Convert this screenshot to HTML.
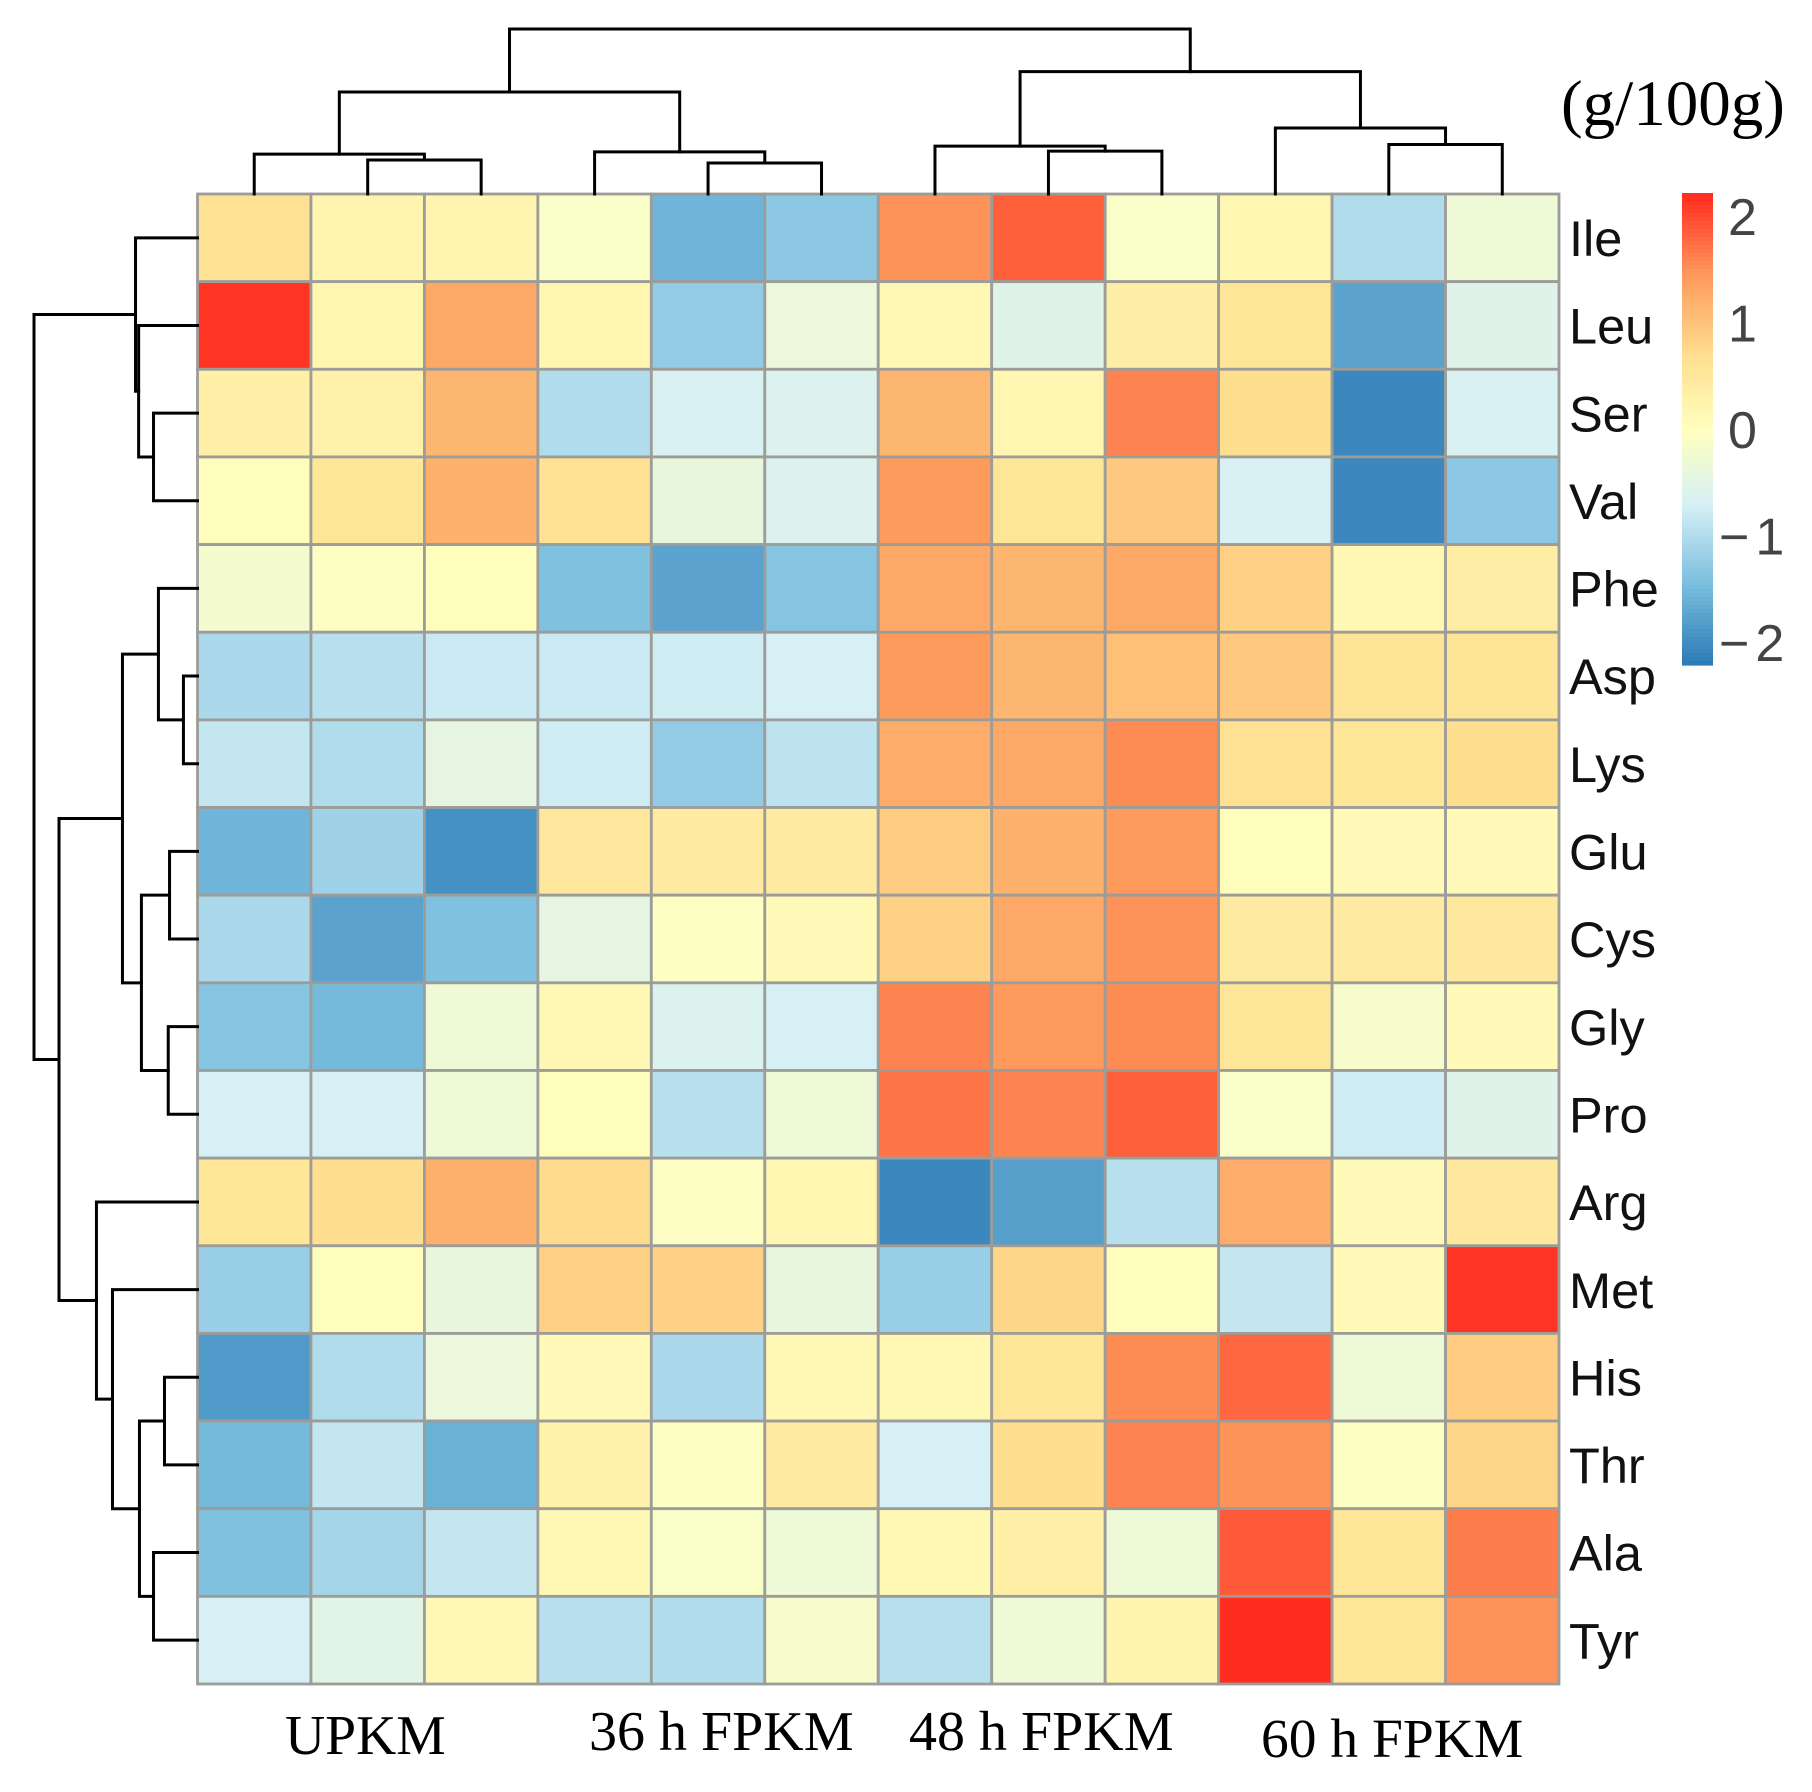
<!DOCTYPE html>
<html>
<head>
<meta charset="utf-8">
<title>Amino acid heatmap</title>
<style>
html,body{margin:0;padding:0;background:#fff;width:1812px;height:1792px;overflow:hidden}
svg{display:block}
</style>
</head>
<body>
<svg id="chart" xmlns="http://www.w3.org/2000/svg" width="1812" height="1792" viewBox="0 0 1812 1792"></svg>
<script>
const rowLabels = ["Ile","Leu","Ser","Val","Phe","Asp","Lys","Glu","Cys","Gly","Pro","Arg","Met","His","Thr","Ala","Tyr"];
const groupLabels = ["UPKM","36 h FPKM","48 h FPKM","60 h FPKM"];
const legendTicks = [2,1,0,-1,-2];
const legendTickLabels = ["2","1","0","\u22121","\u22122"];
const unitLabel = "(g/100g)";

const ileValues = [0.65,0.22,0.22,-0.1,-1.55,-1.3,1.5,1.85,-0.1,0.2,-1.0,-0.3];
const leuValues = [2.15,0.2,1.3,0.2,-1.25,-0.35,0.15,-0.55,0.4,0.55,-1.75,-0.55];
const serValues = [0.35,0.3,1.15,-1.0,-0.65,-0.6,1.15,0.2,1.6,0.7,-2.05,-0.65];
const valValues = [0.05,0.55,1.2,0.65,-0.4,-0.6,1.45,0.55,0.95,-0.65,-2.05,-1.3];
const pheValues = [-0.2,-0.05,0.05,-1.4,-1.75,-1.35,1.3,1.15,1.3,0.85,0.15,0.4];
const aspValues = [-1.05,-0.95,-0.8,-0.8,-0.75,-0.7,1.45,1.15,1.05,0.95,0.6,0.6];
const lysValues = [-0.85,-1.0,-0.45,-0.75,-1.25,-0.9,1.25,1.3,1.55,0.65,0.55,0.7];
const gluValues = [-1.55,-1.15,-1.95,0.5,0.45,0.45,0.9,1.2,1.45,0.05,0.1,0.1];
const cysValues = [-1.05,-1.75,-1.4,-0.45,-0.05,0.1,0.85,1.3,1.5,0.45,0.45,0.5];
const glyValues = [-1.35,-1.5,-0.3,0.15,-0.6,-0.7,1.6,1.45,1.55,0.55,-0.15,0.1];
const proValues = [-0.7,-0.7,-0.3,0.05,-0.95,-0.3,1.7,1.6,1.85,-0.1,-0.75,-0.55];
const argValues = [0.55,0.7,1.2,0.75,-0.05,0.2,-2.05,-1.8,-0.95,1.25,0.1,0.5];
const metValues = [-1.2,0.05,-0.4,0.85,0.85,-0.4,-1.2,0.8,0.05,-0.85,0.1,2.15];
const hisValues = [-1.85,-1.0,-0.35,0.1,-1.05,0.15,0.15,0.55,1.55,1.8,-0.3,0.9];
const thrValues = [-1.5,-0.85,-1.6,0.3,-0.05,0.45,-0.7,0.7,1.6,1.5,-0.05,0.8];
const alaValues = [-1.4,-1.1,-0.85,0.15,-0.1,-0.3,0.15,0.35,-0.3,1.9,0.55,1.65];
const tyrValues = [-0.7,-0.5,0.15,-0.95,-1.0,-0.15,-0.95,-0.3,0.25,2.25,0.55,1.5];

/* Dendrogram merges, hclust convention: negative = leaf number, positive = earlier merge number */
const colMergeA = [-2,-1,-5,-4,2,-8,-7,-11,-10,7,5];
const colMergeB = [-3,1,-6,3,4,-9,6,-12,8,9,10];
const colHeights = [20.6,24.2,18.8,25.5,61.8,26,29,30,40,74.2,100];
const rowMergeA = [-3,-2,-1,-6,-5,-8,-10,6,5,-14,-16,10,-13,-12,9,3];
const rowMergeB = [-4,1,2,-7,4,-9,-11,7,8,-15,-17,11,12,13,14,15];
const rowHeights = [26.9,36,37.9,8.6,23.9,17.1,17.9,34.3,45.9,20.2,26.9,35.5,52,61.8,84.7,100];

const matrix = [ileValues,leuValues,serValues,valValues,pheValues,aspValues,lysValues,gluValues,cysValues,glyValues,proValues,argValues,metValues,hisValues,thrValues,alaValues,tyrValues];

const NS = "http://www.w3.org/2000/svg";
const svg = document.getElementById("chart");
const grid = {left:197.5,right:1559,top:194,bottom:1684};
const nCols = matrix[0].length, nRows = matrix.length;
const cellW = (grid.right-grid.left)/nCols, cellH = (grid.bottom-grid.top)/nRows;
const xCol = i => grid.left + i*cellW;
const yRow = i => grid.top + i*cellH;
const colDendroY = h => grid.top - h*1.65;
const rowDendroX = h => grid.left - h*1.635;
const legendY = v => 430 - 106.5*v;

const colorValues = [-2.2,-1.45,-0.7,0,0.7,1.45,2.2];
const colorStops = [[44,123,182],[122,190,222],[214,240,246],[255,255,191],[254,223,143],[253,154,92],[255,45,32]];
function color(v){
  const c = Math.max(colorValues[0],Math.min(colorValues[colorValues.length-1],v));
  let i = 0;
  while(i < colorValues.length-2 && c > colorValues[i+1]) i++;
  const t = (c-colorValues[i])/(colorValues[i+1]-colorValues[i]);
  const a = colorStops[i], b = colorStops[i+1];
  return "rgb("+[0,1,2].map(k=>Math.round(a[k]+(b[k]-a[k])*t)).join(",")+")";
}
function make(tag,attrs,parent){
  const el = document.createElementNS(NS,tag);
  for(const k in attrs) el.setAttribute(k,attrs[k]);
  (parent||svg).appendChild(el);
  return el;
}

/* heatmap cells */
const cellLayer = make("g",{});


matrix.forEach((row,r)=>{
  row.forEach((v,c)=>{
    const cell = make("rect",{x:xCol(c),y:yRow(r),width:cellW,height:cellH,fill:color(v),stroke:"#9c9c98","stroke-width":2.8},cellLayer);
    
    
  });
});

/* dendrograms */
function drawDendro(mergeA,mergeB,heights,horizontal,name){
  const g = make("g",{fill:"none",stroke:"#000","stroke-width":3,"stroke-linejoin":"miter","stroke-linecap":"square"});
  
  
  const nodes = [];
  const leafPos = n => n-0.5;
  const resolve = id => id<0 ? {p:leafPos(-id),h:0} : nodes[id-1];
  heights.forEach((h,i)=>{
    const a = resolve(mergeA[i]), b = resolve(mergeB[i]);
    let d;
    if(horizontal){
      const x1=xCol(a.p),x2=xCol(b.p),y1=colDendroY(a.h),y2=colDendroY(b.h),y=colDendroY(h);
      d = "M"+x1+" "+y1+"V"+y+"H"+x2+"V"+y2;
    } else {
      const y1=yRow(a.p),y2=yRow(b.p),x1=rowDendroX(a.h),x2=rowDendroX(b.h),x=rowDendroX(h);
      d = "M"+x1+" "+y1+"H"+x+"V"+y2+"H"+x2;
    }
    const link = make("path",{d:d},g);
    
    
    nodes.push({p:(a.p+b.p)/2,h:h});
  });
}
drawDendro(colMergeA,colMergeB,colHeights,true,"column-dendrogram");
drawDendro(rowMergeA,rowMergeB,rowHeights,false,"row-dendrogram");

/* row labels */
rowLabels.forEach((lab,i)=>{
  const t = make("text",{x:1569,y:yRow(i)+62,"font-family":'"Liberation Sans",sans-serif',"font-size":50.5,fill:"#111"});
  t.textContent = lab;
  
  
});

/* group labels (slightly irregular placement as in the figure) */
const groupX = [285,589,909,1261];
const groupY = [1754,1750,1750,1757];
const groupSize = [55.6,56,56,55.5];
groupLabels.forEach((lab,i)=>{
  const t = make("text",{x:groupX[i],y:groupY[i],"font-family":'"Liberation Serif",serif',"font-size":groupSize[i],fill:"#000"});
  t.textContent = lab;
  
  
});

/* unit label */
const unit = make("text",{x:1561,y:125,"font-family":'"Liberation Serif",serif',"font-size":65,fill:"#000"});
unit.textContent = unitLabel;



/* color legend */
const legend = make("g",{});


const barTop = 193, barBottom = 665, barSteps = 118;
for(let i=0;i<barSteps;i++){
  const y = barTop + (barBottom-barTop)*i/barSteps;
  const v = (430-y-2)/106.5;
  const s = make("rect",{x:1682,y:y,width:31,height:(barBottom-barTop)/barSteps+0.6,fill:color(v)},legend);
  
  
}
legendTicks.forEach((v,i)=>{
  const t = make("text",{x:v<0?1719:1728,y:legendY(v)+18,"font-family":'"Liberation Sans",sans-serif',"font-size":52,fill:"#444"},legend);
  t.textContent = legendTickLabels[i];
  if(v<0) t.setAttribute("letter-spacing","6");
  
  
});
</script>
</body>
</html>
